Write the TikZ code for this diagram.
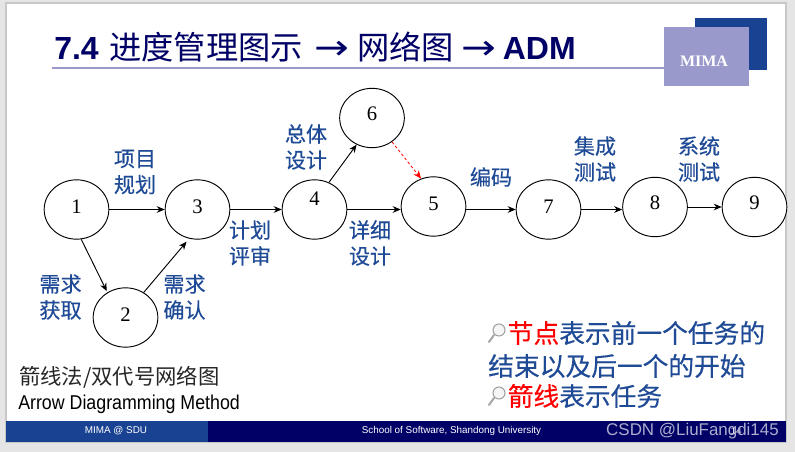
\documentclass[tikz,border=0pt]{standalone}
\usepackage{fontspec}
\usetikzlibrary{shapes.geometric,arrows.meta}
\setmainfont{Liberation Sans}
\newfontfamily\cjk{Noto Sans CJK SC}
\newfontfamily\cjkheavy{Noto Sans CJK SC}[FakeBold=0.35]
\newfontfamily\numfont{Liberation Serif}
\newfontfamily\arrowfont{DejaVu Sans}
\definecolor{navy}{HTML}{000066}
\definecolor{sduBlue}{HTML}{1A4292}
\definecolor{lilac}{HTML}{9999CC}
\definecolor{labelBlue}{HTML}{1F4A96}
\tikzset{
  evt/.style={ellipse,draw=black,line width=0.7pt,fill=white,minimum width=48.5pt,minimum height=44.5pt,inner sep=0pt,font=\numfont\fontsize{15.5}{15.5}\selectfont},
  act/.style={-{Stealth[length=6pt,width=5pt]},line width=0.7pt,black},
  dummy/.style={-{Stealth[length=6pt,width=5pt]},line width=0.6pt,red,dash pattern=on 2.2pt off 1.6pt},
  tag/.style={inner sep=0pt,align=center,text=labelBlue,font=\cjkheavy\fontsize{15.8}{19.5}\selectfont},
  note/.style={inner sep=0pt,anchor=west,text=labelBlue,font=\cjkheavy\fontsize{19.3}{19.3}\selectfont},
  foot/.style={inner sep=0pt,text=white,font=\fontsize{7.4}{8}\selectfont}
}
\newcommand{\lift}[2]{\raisebox{#1}[10.5pt][0pt]{#2}}
\newcommand{\titlearrow}{\scalebox{1.2}[1]{\arrowfont\fontsize{26}{24}\selectfont →}}
\newcommand{\lens}[2]{\begin{scope}[shift={(#1,#2)}]
  \draw[gray!70,line width=1.5pt,line cap=round] (-5,5) -- (-10,12);
  \draw[gray!75,fill=gray!8,line width=0.8pt] (0,0) circle (6);
\end{scope}}
\begin{document}
\begin{tikzpicture}[x=0.75pt,y=-0.75pt]
\useasboundingbox (0,0) rectangle (795,452);
\fill[black!10] (0,0) rectangle (795,452);
\fill[white,draw=black!22,line width=0.8pt] (6,3) rectangle (786,442);
% footer
\fill[sduBlue] (6,421) rectangle (208,442);
\fill[navy] (208,421) rectangle (786,442);
\node[foot] (ftl) at (116,431) {MIMA @ SDU};
\node[foot] (ftr) at (451.5,430.5) {School of Software, Shandong University};
% logo
\fill[sduBlue] (695,18) rectangle (767,70);
\fill[lilac] (52,67) rectangle (664,69);
\fill[lilac] (664,27) rectangle (749,86);
\node[inner sep=0pt,text=white,font=\numfont\bfseries\fontsize{12}{12}\selectfont] (logo) at (704,61) {MIMA};
% title
\node[inner sep=0pt,anchor=base west,text=navy] (title) at (54,60)
  {\fontsize{24}{24}\selectfont\textbf{7.4}\hspace{8pt}{\cjk\fontsize{24.2}{24}\selectfont 进度管理图示}\hspace{8.5pt}\titlearrow\hspace{6pt}{\cjk\fontsize{24.2}{24}\selectfont 网络图}\hspace{5.5pt}\titlearrow\hspace{5pt}\textbf{ADM}};
% events
\node[evt] (n1) at (76.5,209.5) {\lift{2.6pt}{1}};
\node[evt] (n2) at (125.5,317.5) {\lift{2.6pt}{2}};
\node[evt] (n3) at (197.5,209.5) {\lift{2.6pt}{3}};
\node[evt] (n4) at (314.5,209.5) {\lift{8pt}{4}};
\node[evt] (n6) at (372,118) {\lift{3.5pt}{6}};
\node[evt] (n5) at (433.5,206.5) {\lift{2.6pt}{5}};
\node[evt] (n7) at (548.5,209.5) {\lift{2.6pt}{7}};
\node[evt] (n8) at (655,207) {\lift{3pt}{8}};
\node[evt] (n9) at (754.5,207) {\lift{3pt}{9}};
% connectors
\draw[act] (n1.east) -- (n3.west);
\draw[act] (n1.279) -- ([shift={(-1,-1)}]n2.125);
\draw[act,shorten >=3pt] (n2.54) -- (n3.254);
\draw[act] (n3.east) -- (n4.west);
\draw[act] (n4.62) -- (n6.240);
\draw[act] (n4.east) -- (n5.west |- n4.east);
\draw[dummy] (n6.310) -- (n5.114);
\draw[act] (n5.east |- n7.west) -- (n7.west);
\draw[act] (n7.east) -- (n8.west |- n7.east);
\draw[act] (n8.east) -- (n9.west);
% task labels
\node[tag] (t13) at (135,172) {项目\\规划};
\node[tag] (t12) at (60.5,297) {需求\\获取};
\node[tag] (t23) at (184.5,297) {需求\\确认};
\node[tag] (t34) at (250,243) {计划\\评审};
\node[tag] (t46) at (306,147) {总体\\设计};
\node[tag] (t45) at (370,243) {详细\\设计};
\node[tag] (t57) at (491,177) {编码};
\node[tag] (t78) at (595,159) {集成\\测试};
\node[tag] (t89) at (699,159) {系统\\测试};
% caption
\node[inner sep=0pt,anchor=west,font=\cjk\fontsize{16}{16}\selectfont,text=black!85] (cap1) at (19,377) {箭线法/双代号网络图};
\node[inner sep=0pt,anchor=west,font=\fontsize{15}{15}\selectfont] (cap2) at (18,404) {\scalebox{0.89}[1]{Arrow Diagramming Method}};
% notes
\lens{499}{330}
\node[note] (note1) at (507.5,333) {\textcolor{red}{节点}表示前一个任务的};
\node[note] (note2) at (488,366) {结束以及后一个的开始};
\lens{499}{393}
\node[note] (note3) at (507.5,396) {\textcolor{red}{箭线}表示任务};
% page number and watermark
\node[inner sep=0pt,text=white,font=\fontsize{7.4}{8}\selectfont] (pg) at (736,431) {14};
\node[inner sep=0pt,anchor=east,text=white!68!navy,font=\fontsize{12.7}{15}\selectfont] (wm) at (779,431) {CSDN @LiuFangdi145};
\end{tikzpicture}
\end{document}
